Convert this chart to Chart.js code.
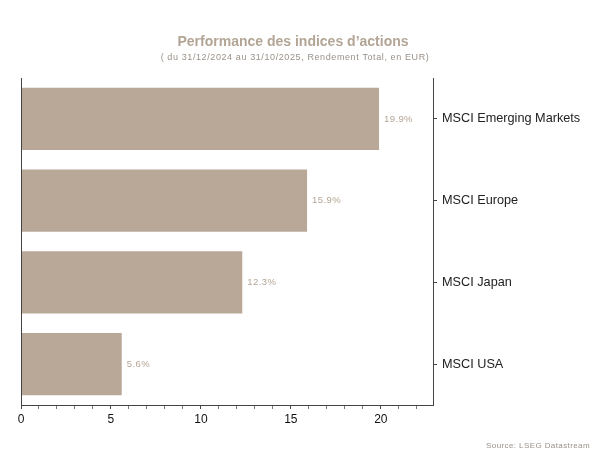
<!DOCTYPE html>
<html>
<head>
<meta charset="utf-8">
<script src="https://cdn.jsdelivr.net/npm/chart.js@4/dist/chart.umd.min.js"></script>
<style>
  html, body { margin: 0; padding: 0; background: #fff; }
  #wrap { width: 607px; height: 463px; }
</style>
</head>
<body>
<div id="wrap"><canvas id="myChart" width="607" height="463"></canvas></div>
<script>
const indices = ['MSCI Emerging Markets', 'MSCI Europe', 'MSCI Japan', 'MSCI USA'];
const returns = [19.9, 15.9, 12.3, 5.6];
const xTicks = [0, 5, 10, 15, 20];

const tan = '#b9a898';

// title, subtitle, source and value labels
const extras = {
    id: 'extras',
    afterDraw(chart) {
        const ctx = chart.ctx;
        const area = chart.chartArea;
        ctx.save();
        // left border line
        ctx.strokeStyle = '#444';
        ctx.lineWidth = 1;
        ctx.beginPath();
        ctx.moveTo(area.left + 0.5, area.top);
        ctx.lineTo(area.left + 0.5, area.bottom);
        ctx.stroke();

        ctx.textAlign = 'center';
        ctx.textBaseline = 'middle';
        ctx.fillStyle = '#b3a595';
        ctx.font = 'bold 14px "Liberation Sans", Arial, sans-serif';
        ctx.fillText('Performance des indices d\u2019actions', 293, 42);
        ctx.fillStyle = '#9a928a';
        ctx.letterSpacing = '0.6px';
        ctx.font = '9px "Liberation Sans", Arial, sans-serif';
        ctx.fillText('( du 31/12/2024 au 31/10/2025, Rendement Total, en EUR)', 295, 58);

        ctx.textAlign = 'right';
        ctx.letterSpacing = '0.4px';
        ctx.font = '8px "Liberation Sans", Arial, sans-serif';
        ctx.fillStyle = '#9a928a';
        ctx.fillText('Source: LSEG Datastream', 590, 446);

        // value labels
        ctx.textAlign = 'left';
        ctx.letterSpacing = '0.4px';
        ctx.fillStyle = '#b5a595';
        ctx.font = '9.5px "Liberation Sans", Arial, sans-serif';
        chart.getDatasetMeta(0).data.forEach((bar, i) => {
            ctx.fillText(returns[i].toFixed(1) + '%', bar.x + 5, bar.y);
        });
        ctx.restore();
    }
};

new Chart(document.getElementById('myChart'), {
    type: 'bar',
    data: {
        labels: indices,
        datasets: [{
            data: returns,
            backgroundColor: tan,
            borderWidth: 0,
            categoryPercentage: 0.76,
            barPercentage: 1
        }]
    },
    options: {
        indexAxis: 'y',
        responsive: false,
        animation: false,
        layout: { padding: { top: 78, left: 21, right: 0, bottom: 28 } },
        plugins: {
            legend: { display: false },
            tooltip: { enabled: false }
        },
        scales: {
            x: {
                min: 0,
                max: 22.9,
                afterBuildTicks(scale) {
                    const t = [];
                    for (let v = 0; v <= 22; v++) t.push({ value: v });
                    scale.ticks = t;
                },
                afterFit(scale) { scale.height = 30; },
                border: { display: true, color: '#444', width: 1 },
                grid: {
                    drawOnChartArea: false,
                    drawTicks: true,
                    tickLength: 4,
                    tickColor: ctx => (xTicks.includes(ctx.tick.value) ? '#444' : '#777'),
                    tickWidth: 1
                },
                ticks: {
                    autoSkip: false,
                    maxRotation: 0,
                    padding: 3,
                    color: '#111',
                    font: { family: '"Liberation Sans", Arial, sans-serif', size: 12 },
                    callback: v => (xTicks.includes(v) ? String(v) : '')
                }
            },
            y: {
                position: 'right',
                afterFit(scale) { scale.width = 174; },
                border: { display: true, color: '#444', width: 1 },
                grid: {
                    offset: false,
                    drawOnChartArea: false,
                    tickLength: 4,
                    tickColor: '#444'
                },
                ticks: {
                    padding: 5,
                    color: '#222',
                    font: { family: '"Liberation Sans", Arial, sans-serif', size: 12.7 }
                }
            }
        }
    },
    plugins: [extras]
});
</script>
</body>
</html>
